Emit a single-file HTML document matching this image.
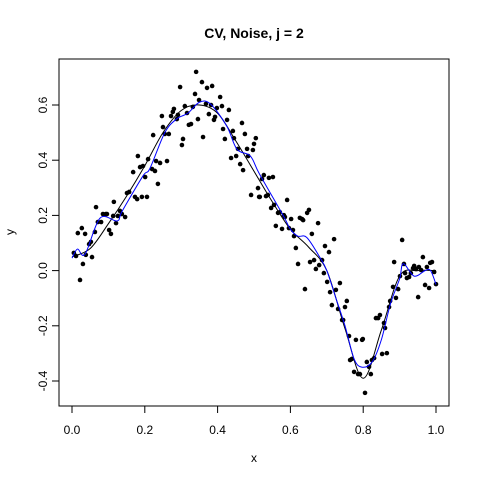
<!DOCTYPE html>
<html><head><meta charset="utf-8"><style>
html,body{margin:0;padding:0;background:#fff;}
svg{display:block;font-family:"Liberation Sans",Arial,sans-serif;}
</style></head><body>
<svg id="chart" width="480" height="480" viewBox="0 0 480 480"></svg>
<script>
const xs=[.005,.011,.022,.030,.016,.027,.036,.038,.047,.052,.055,.063,.066,.071,.080,.085,.093,.096,.102,.107,.113,.115,.121,.126,.132,.137,.146,.151,.157,.168,.173,.179,.181,.187,.192,.195,.201,.206,.209,.220,.223,.228,.231,.236,.242,.247,.250,.255,.261,.266,.272,.277,.280,.288,.291,.297,.302,.305,.310,.316,.321,.327,.332,.338,.341,.346,.349,.357,.360,.368,.371,.376,.382,.385,.390,.393,.398,.407,.412,.415,.420,.426,.431,.437,.442,.445,.451,.456,.462,.467,.470,.475,.481,.484,.492,.497,.500,.505,.511,.514,.516,.522,.527,.533,.538,.541,.547,.552,.555,.560,.566,.571,.577,.582,.585,.591,.596,.602,.607,.610,.615,.621,.626,.632,.635,.640,.646,.651,.654,.659,.665,.670,.676,.679,.687,.692,.695,.701,.706,.709,.714,.720,.725,.731,.736,.742,.745,.750,.755,.761,.764,.769,.775,.780,.786,.791,.797,.799,.805,.810,.816,.821,.824,.830,.835,.841,.846,.852,.857,.860,.865,.871,.874,.882,.885,.890,.896,.901,.907,.912,.915,.920,.926,.931,.937,.940,.945,.951,.953,.959,.964,.970,.975,.981,.984,.989,.995,1.0];
const ys=[.064,.053,-.034,.024,.136,.154,.133,.057,.096,.104,.049,.140,.230,.176,.176,.205,.205,.205,.147,.133,.198,.249,.172,.198,.216,.205,.194,.281,.285,.357,.267,.259,.415,.375,.267,.379,.339,.267,.404,.368,.491,.361,.397,.314,.390,.560,.520,.495,.397,.495,.560,.575,.586,.549,.564,.665,.455,.477,.596,.571,.528,.531,.593,.640,.720,.549,.618,.683,.484,.604,.662,.567,.600,.669,.546,.557,.589,.629,.596,.513,.477,.546,.582,.408,.506,.480,.415,.441,.386,.535,.364,.495,.441,.415,.274,.437,.459,.480,.299,.267,.267,.332,.346,.270,.274,.336,.227,.339,.238,.162,.209,.212,.151,.201,.194,.256,.154,.187,.147,.125,.082,.024,.191,.187,.183,-.067,.209,.220,.031,.133,.038,.006,.172,.020,.038,-.009,.089,-.041,.067,-.078,-.125,.114,-.070,-.139,-.045,-.179,-.179,-.132,-.110,-.237,-.324,-.320,-.367,-.251,-.375,-.375,-.251,-.248,-.443,-.331,-.349,-.375,-.324,-.317,-.172,-.172,-.161,-.302,-.190,-.208,-.299,-.132,-.110,-.059,.031,-.099,-.067,-.020,.111,.024,-.009,-.027,-.023,-.009,.009,.017,.006,-.096,.013,.002,.049,-.052,.013,-.063,.028,.031,-.005,-.049];
const trueX=[0,.05,.1,.15,.2,.25,.3,.35,.4,.45,.5,.55,.6,.65,.7,.75,.8,.85,.9,.95,1];
const trueY=[.05,.08,.17,.27,.38,.5,.58,.6,.57,.47,.36,.25,.15,.085,0,-.21,-.39,-.215,-.02,0,0];
const fitX=[0,.015,.036,.077,.124,.138,.195,.214,.255,.288,.318,.35,.38,.425,.453,.49,.515,.58,.6,.62,.645,.68,.7,.725,.75,.775,.797,.825,.85,.875,.9,.91,.94,.97,.985,1];
const fitY=[.045,.078,.06,.19,.18,.216,.343,.37,.5,.55,.57,.61,.604,.524,.44,.415,.35,.2,.15,.125,.12,.05,0,-.1,-.2,-.32,-.35,-.33,-.25,-.12,-.03,.025,-.02,0,0,-.05];
const xTicks=[0,0.2,0.4,0.6,0.8,1.0], xTickLabels=["0.0","0.2","0.4","0.6","0.8","1.0"];
const yTicks=[-0.4,-0.2,0,0.2,0.4,0.6], yTickLabels=["-0.4","-0.2","0.0","0.2","0.4","0.6"];

const NS="http://www.w3.org/2000/svg", svg=document.getElementById('chart');
const sx=v=>72+v*364, sy=v=>105+(0.6-v)*276;
function mk(t,a,p){const e=document.createElementNS(NS,t);for(const k in a)e.setAttribute(k,a[k]);(p||svg).appendChild(e);return e;}
function txt(s,a){const e=mk('text',a);e.textContent=s;return e;}

let t=txt("CV, Noise, j = 2",{x:254,y:38,'text-anchor':'middle','font-size':14,'font-weight':'bold',fill:'#000'});


let b=mk('rect',{x:59,y:59,width:390,height:347,fill:'none',stroke:'#000','stroke-width':1});


xTicks.forEach((v,i)=>{
  let l=mk('line',{x1:sx(v),x2:sx(v),y1:406,y2:413,stroke:'#000'});
  
  
  let s=txt(xTickLabels[i],{x:sx(v),y:434,'text-anchor':'middle','font-size':12});
  
  
});
yTicks.forEach((v,i)=>{
  let l=mk('line',{x1:52,x2:59,y1:sy(v),y2:sy(v),stroke:'#000'});
  
  
  let s=txt(yTickLabels[i],{x:0,y:0,'text-anchor':'middle','font-size':12,transform:`translate(47,${sy(v)}) rotate(-90)`});
  
  
});
let xl=txt("x",{x:254,y:462,'text-anchor':'middle','font-size':12});


let yl=txt("y",{x:0,y:0,'text-anchor':'middle','font-size':12,transform:'translate(14,232) rotate(-90)'});



const pg=mk('g',{});


xs.forEach((x,i)=>{
  const c=mk('circle',{cx:sx(x),cy:sy(ys[i]),r:2.3,fill:'#000'},pg);
  
  
});
function smooth(X,Y){
  const P=X.map((x,i)=>[sx(x),sy(Y[i])]);let d=`M${P[0][0]},${P[0][1]}`;
  for(let i=0;i<P.length-1;i++){const p0=P[Math.max(i-1,0)],p1=P[i],p2=P[i+1],p3=P[Math.min(i+2,P.length-1)];
    d+=` C${p1[0]+(p2[0]-p0[0])/6},${p1[1]+(p2[1]-p0[1])/6} ${p2[0]-(p3[0]-p1[0])/6},${p2[1]-(p3[1]-p1[1])/6} ${p2[0]},${p2[1]}`;}
  return d;}
let tl=mk('path',{d:smooth(trueX,trueY),fill:'none',stroke:'#000','stroke-width':1});


let fl=mk('path',{d:smooth(fitX,fitY),fill:'none',stroke:'#0000ff','stroke-width':1});


</script>
</body></html>
